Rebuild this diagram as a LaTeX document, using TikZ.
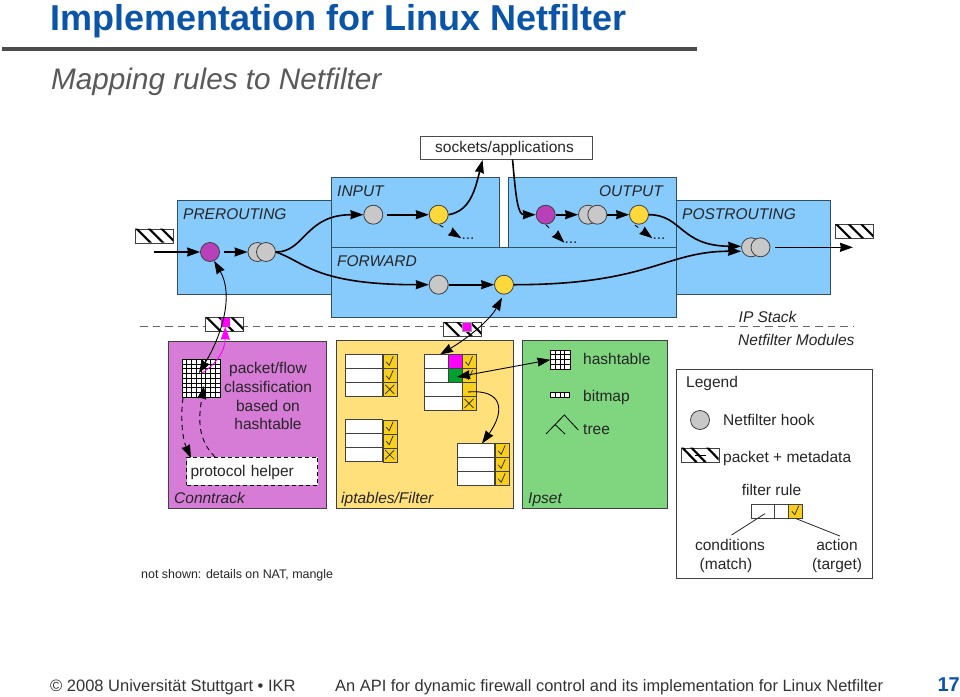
\documentclass[tikz,border=0pt]{standalone}
\usepackage{fontspec}
\setmainfont{Liberation Sans}
\usetikzlibrary{arrows.meta,patterns,calc}
\definecolor{hookblue}{HTML}{87CBFD}
\definecolor{boxedge}{HTML}{2F4F60}
\definecolor{ctfill}{HTML}{D67BD6}
\definecolor{ftfill}{HTML}{FFE07A}
\definecolor{ipfill}{HTML}{7FD67F}
\definecolor{hookgrey}{HTML}{C8C8C8}
\definecolor{hookyellow}{HTML}{FFD93B}
\definecolor{hookmag}{HTML}{B840B8}
\definecolor{actionyellow}{HTML}{F8CF1A}
\definecolor{titleblue}{HTML}{0A55A8}
\definecolor{pinkm}{HTML}{FF00FF}
\definecolor{greenm}{HTML}{00A030}
\tikzset{
  x=1pt,y=-1pt,
  head/.tip={Stealth[length=13pt,width=9pt,inset=0.8pt]},
  lbl/.style={inner sep=0pt,font=\fontsize{15.5}{18}\selectfont,text=black!85},
  itlbl/.style={lbl,font=\fontsize{15.5}{18}\selectfont\itshape},
  chain/.style={fill=hookblue,draw=boxedge,line width=0.9pt},
  hook/.style={circle,draw=black!75,line width=0.8pt,minimum size=19pt,inner sep=0pt},
  greyhook/.style={hook,fill=hookgrey},
  yelhook/.style={hook,fill=hookyellow},
  maghook/.style={hook,fill=hookmag},
  flow/.style={line width=1.6pt,-{head},black},
  thin flow/.style={line width=0.9pt,-{head},black},
  both flow/.style={line width=0.9pt,{head}-{head},black},
  dash flow/.style={line width=0.9pt,-{head},black,dash pattern=on 5pt off 4pt},
  tick flow/.style={line width=0.9pt,-{head},black,dash pattern=on 4pt off 40pt},
  cell/.style={draw=black!75,line width=0.8pt},
}
\newcommand{\packetbox}[3]{%
  \node[draw=black!75,fill=white,line width=0.8pt,minimum width=38pt,minimum height=14pt,inner sep=0pt,anchor=north west] (#1) at (#2,#3) {};
  \begin{scope}
    \clip (#2,#3) rectangle ++(38,14);
    \foreach \k in {0,12.5,25}{
      \fill[black] ($(#2,#3)+(\k,0)$) -- ++(3,0) -- ++(14,14) -- ++(-3,0) -- cycle;
    }
  \end{scope}
}
\newcommand{\actioncell}[4]{%
  \node[cell,fill=actionyellow,minimum width=14pt,minimum height=14pt,inner sep=0pt,anchor=north west] (#4) at (#1,#2) {};
  \ifnum#3=1
    \draw[black!85,line width=0.7pt] ($(#1,#2)+(3.5,7.5)$) -- ++(3,3.5) -- ++(4,-9);
  \fi
  \ifnum#3=2
    \draw[black!85,line width=0.7pt] ($(#1,#2)+(2.5,2.5)$) -- ++(9,9) ($(#1,#2)+(11.5,2.5)$) -- ++(-9,9);
  \fi
}
\newcommand{\gridbox}[6]{%
  \node[draw=black,fill=white,line width=0.8pt,minimum size=#4pt,inner sep=0pt,anchor=north west] (#1) at (#2,#3) {};
  \pgfmathsetmacro{\stepg}{#4/#5}
  \foreach \i in {1,...,\numexpr#5-1\relax}{
    \draw[black,line width=#6pt] ($(#2,#3)+(\i*\stepg,0)$) -- ++(0,#4);
    \draw[black,line width=#6pt] ($(#2,#3)+(0,\i*\stepg)$) -- ++(#4,0);
  }
}
\begin{document}
\begin{tikzpicture}
\useasboundingbox[fill=white] (0,0) rectangle (960,696);
% header
\node[anchor=base west,inner sep=0pt,font=\fontsize{36}{40}\selectfont\bfseries,text=titleblue] (title) at (50,30) {Implementation for Linux Netfilter};
\fill[black!70] (2,46.5) rectangle (697,51);
\node[anchor=base west,inner sep=0pt,font=\fontsize{29.7}{32}\selectfont\itshape,text=black!65] (sub) at (51,89) {Mapping rules to Netfilter};
% footer
\node[anchor=base west,inner sep=0pt,font=\fontsize{16.5}{20}\selectfont,text=black!80] (f1) at (50,691) {© 2008 Universität Stuttgart • IKR};
\node[anchor=base west,inner sep=0pt,font=\fontsize{16.43}{20}\selectfont,text=black!80] (f2) at (335,691) {An API for dynamic firewall control and its implementation for Linux Netfilter};
\node[anchor=base east,inner sep=0pt,font=\fontsize{20}{24}\selectfont\bfseries,text=titleblue] (f3) at (960,691) {17};
\node[anchor=base west,inner sep=0pt,font=\fontsize{12.45}{15}\selectfont,text=black!85] (note) at (141,578.5) {not shown: details on NAT, mangle};
% chains
\draw[chain] (177.7,200.7) rectangle (331.3,294);
\draw[chain] (676.3,200.7) rectangle (830.3,294);
\draw[chain] (331.3,177.7) rectangle (499.3,247.3);
\draw[chain] (508.7,177.7) rectangle (676.3,247.3);
\draw[chain] (331.3,247.3) rectangle (676.3,317.3);
\node[itlbl,anchor=base west] (lpre) at (183,219.5) {PREROUTING};
\node[itlbl,anchor=base west] (linp) at (337,196) {INPUT};
\node[itlbl,anchor=base west] (lfwd) at (337,266) {FORWARD};
\node[itlbl,anchor=base east] (lout) at (663,196) {OUTPUT};
\node[itlbl,anchor=base west] (lpost) at (682,219.5) {POSTROUTING};
\node[lbl,draw=black!70,fill=white,line width=0.9pt,minimum width=172pt,minimum height=23pt,text height=13.2pt,text depth=3.2pt] (sock) at (506,147.5) {\hspace*{-3pt}sockets/applications};
% hooks
\node[maghook] (h1) at (210,252) {};
\node[greyhook] (h2a) at (257.5,252) {};
\node[greyhook] (h2) at (266,252) {};
\node[greyhook] (h3) at (373.3,214.7) {};
\node[yelhook] (h4) at (438.7,214.7) {};
\node[greyhook] (h5) at (438.7,284.7) {};
\node[yelhook] (h6) at (504,284.7) {};
\node[maghook] (h7) at (545.7,214.7) {};
\node[greyhook] (h8a) at (588,214.7) {};
\node[greyhook] (h8) at (597.3,214.7) {};
\node[yelhook] (h9) at (639,214.7) {};
\node[greyhook] (h10a) at (751,247.3) {};
\node[greyhook] (h10) at (760.5,247.3) {};
% dots
\node[lbl,anchor=base] (d1) at (468,239) {...};
\node[lbl,anchor=base] (d2) at (571,243.5) {...};
\node[lbl,anchor=base] (d3) at (659,239) {...};
% dashed line and packets
\draw[black!60,line width=0.9pt,dash pattern=on 7.5pt off 5pt] (140,326.7) -- (854,326.7);
\packetbox{p1}{135}{228.7}
\packetbox{p2}{835}{224.3}
\packetbox{p3}{205.3}{317.3}
\packetbox{p4}{443.3}{322}
\node[fill=pinkm,minimum size=9pt,inner sep=0pt,anchor=north west] (m1) at (220.7,317.3) {};
\node[fill=pinkm,draw=black!40,line width=0.3pt,minimum size=9pt,inner sep=0pt,anchor=north west] (m2) at (462.3,322) {};
% boxes
\draw[draw=black!75,fill=ctfill,line width=0.9pt] (168,341) rectangle (326.7,508.7);
\draw[draw=black!75,fill=ftfill,line width=0.9pt] (336.7,340.7) rectangle (513.3,508.5);
\draw[draw=black!75,fill=ipfill,line width=0.9pt] (522.7,340.7) rectangle (667.3,508.7);
\node[itlbl,anchor=base west] (lct) at (174,503.5) {Conntrack};
\node[itlbl,anchor=base west] (lft) at (341,503.5) {iptables/Filter};
\node[itlbl,anchor=base west] (lip) at (528,503.5) {Ipset};
\node[itlbl,anchor=base west] (lstack) at (738.5,322) {IP Stack};
\node[itlbl,anchor=base west] (lmod) at (738,345.5) {Netfilter Modules};
% conntrack contents
\gridbox{g1}{182}{359.3}{38}{8}{0.7}
\node[lbl,align=center,anchor=north,font=\fontsize{15.5}{18.8}\selectfont] (ctxt) at (268,362) {packet/flow\\classification\\based on\\hashtable};
\node[lbl,draw=black,dash pattern=on 4pt off 3pt,fill=white,line width=0.8pt,minimum width=131pt,minimum height=28pt,text width=126pt,align=left,text height=13.2pt,text depth=3.2pt] (helper) at (252,471) {\hspace*{1.5pt}protocol helper};
% filter tables
\foreach \yy in {354.3,368.3,382.3}{\draw[cell,fill=white] (345,\yy) rectangle (382.7,\yy+14);}
\actioncell{382.7}{354.3}{1}{a1}\actioncell{382.7}{368.3}{1}{a2}\actioncell{382.7}{382.3}{2}{a3}
\foreach \yy in {419.7,433.7,447.7}{\draw[cell,fill=white] (345,\yy) rectangle (382.7,\yy+14);}
\actioncell{382.7}{419.7}{1}{a4}\actioncell{382.7}{433.7}{1}{a5}\actioncell{382.7}{447.7}{2}{a6}
\node[cell,fill=white,minimum width=37.7pt,minimum height=56pt,inner sep=0pt,anchor=north west] (t3) at (424.3,354.3) {};
\foreach \yy in {354.3,368.3,382.3,396.3}{\draw[cell] (424.3,\yy) rectangle (462,\yy+14);}
\node[cell,fill=pinkm,minimum width=14pt,minimum height=14pt,inner sep=0pt,anchor=north west] (t3m) at (448,354.3) {};
\node[cell,fill=greenm,minimum width=14pt,minimum height=14pt,inner sep=0pt,anchor=north west] (t3g) at (448,368.3) {};
\actioncell{462}{354.3}{1}{b1}\actioncell{462}{368.3}{1}{b2}\actioncell{462}{382.3}{0}{b3}\actioncell{462}{396.3}{2}{b4}
\node[cell,fill=white,minimum width=37.4pt,minimum height=42pt,inner sep=0pt,anchor=north west] (t4) at (457.3,443.3) {};
\foreach \yy in {443.3,457.3,471.3}{\draw[cell] (457.3,\yy) rectangle (494.7,\yy+14);}
\actioncell{494.7}{443.3}{1}{c1}\actioncell{494.7}{457.3}{1}{c2}\actioncell{494.7}{471.3}{1}{c3}
% ipset contents
\gridbox{g2}{550.3}{349.7}{19.3}{4}{0.6}
\node[draw=black,fill=white,line width=0.8pt,minimum width=19pt,minimum height=4.5pt,inner sep=0pt,anchor=north west] (bm) at (550.3,392.2) {};
\foreach \xx in {555,560,564.5}{\draw[black,line width=0.5pt] (\xx,392.2) -- (\xx,396.7);}
\draw[black,line width=0.8pt] (546,434) -- (564.3,415) -- (578.3,430) (555,424.5) -- (565,434);
\node[lbl,anchor=base west] (ih) at (583,364) {hashtable};
\node[lbl,anchor=base west] (ib) at (583,401) {bitmap};
\node[lbl,anchor=base west] (it) at (583,434) {tree};
% legend
\draw[draw=black!75,fill=white,line width=0.9pt] (676.7,369) rectangle (872.3,578.3);
\node[lbl,anchor=base west] (lg) at (686,387) {Legend};
\node[greyhook] (lh) at (700,420) {};
\node[lbl,anchor=base west] (lht) at (723,425) {Netfilter hook};
\node[draw=black!75,fill=white,line width=0.8pt,minimum width=37.7pt,minimum height=14.6pt,inner sep=0pt,anchor=north west] (lp) at (681,447.7) {};
\begin{scope}
  \clip (681,447.7) rectangle ++(37.7,14.6);
  \fill[black] (681,447.7) -- ++(3,0) -- ++(14,14.6) -- ++(-3,0) -- cycle;
  \fill[black] (690,447.7) -- ++(3,0) -- ++(14,14.6) -- ++(-3,0) -- cycle;
  \fill[black] (706,447.7) -- ++(3,0) -- ++(14,14.6) -- ++(-3,0) -- cycle;
  \draw[black,line width=0.8pt] (695,455) -- (706,455);
\end{scope}
\node[lbl,anchor=base west] (lpt) at (723,462) {packet + metadata};
\node[lbl,anchor=base] (lft2) at (771.5,495) {filter rule};
\node[cell,fill=white,minimum width=37.3pt,minimum height=14pt,inner sep=0pt,anchor=north west] (lr) at (751,503.7) {};
\draw[cell] (774.3,503.7) -- (774.3,517.7);
\actioncell{788.3}{503.7}{1}{la}
\node[lbl,anchor=base,align=center] (lc1) at (730,550) {conditions};
\node[lbl,anchor=base] (lc2) at (726,569) {(match)};
\node[lbl,anchor=base] (la1) at (837,550) {action};
\node[lbl,anchor=base] (la2) at (837,569) {(target)};
\draw[black!85,line width=0.8pt] ($(lr.west)+(14,2.5)$) -- ($(lc1.north)+(1.5,-3.5)$);
\draw[black!85,line width=0.8pt] (la.south) -- ($(la1.north)+(3,-2.5)$);
% connectors
\coordinate (pin) at (154,252);
\coordinate (pout) at (853,247.3);
\draw[flow] (pin) -- (h1.west);
\draw[flow] (224,252) -- (h2a.west);
\draw[flow] (h2.east) .. controls (305,252) and (305,214.7) .. (h3.west);
\draw[flow] (h2.east) .. controls (305,262) and (315,284.7) .. (h5.west);
\draw[flow] (387,214.7) -- (h4.west);
\draw[flow] (h5.east) -- (h6.west);
\draw[flow] (h4.east) .. controls (470,211) and (475,190) .. ($(sock.south west)+(63,0.5)$);
\draw[flow] ($(sock.south west)+(93,0)$) .. controls (516,200) and (518,214.7) .. (h7.west);
\draw[flow] (h7.east) -- (h8a.west);
\draw[flow] (h8.east) -- (h9.west);
\draw[flow] (h9.east) .. controls (682,214.7) and (680,246) .. ($(h10a.west)+(0,-1)$);
\draw[flow] (h6.east) .. controls (650,284.7) and (665,251) .. ($(h10a.west)+(0,4)$);
\draw[flow] (775,247.3) -- (pout);
\draw[tick flow] ($(h4.south)+(1,0.5)$) -- (d1.west);
\draw[tick flow] ($(h7.south)+(0.5,0.5)$) -- (d2.west);
\draw[tick flow] ($(h9.south)+(-4,0.5)$) -- (d3.west);
% conntrack arrows
\draw[both flow] (199,373) .. controls (222,335) and (234,295) .. (h1.-65);
\draw[pinkm,line width=0.9pt,-{head}] (202,373) .. controls (215,365) and (225,352) .. (m1.south);
\draw[dash flow] (183,398) .. controls (180,420) and (183,440) .. (191,458);
\draw[dash flow] (215,457) .. controls (198,440) and (198,420) .. (204,386);
% filter arrows
\draw[both flow] (440,354.5) .. controls (468,338) and (490,320) .. ($(h6.south)+(-2,3)$);
\draw[both flow] (457,377) -- (g2.west);
\draw[thin flow] (468,392) .. controls (502,389) and (506,410) .. (482,443.5);
\end{tikzpicture}
\end{document}
